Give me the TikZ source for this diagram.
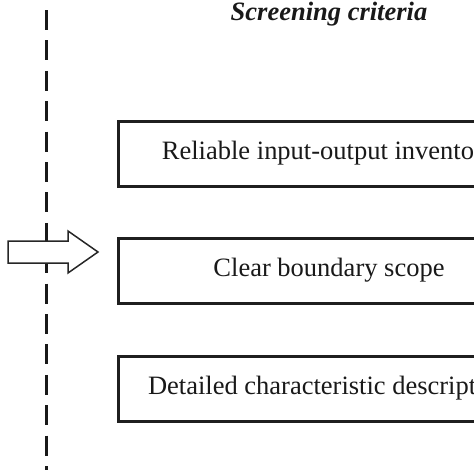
\documentclass[tikz,border=0pt]{standalone}
\usepackage{fontspec}
\setmainfont{Liberation Serif}
\tikzset{
  critbox/.style={draw=black!88, line width=3pt, minimum width=422pt, minimum height=65pt, inner sep=0pt, text=black!90, font=\fontsize{26.5}{30}\selectfont},
  divider/.style={draw=black!90, line width=3pt, dash pattern=on 20pt off 10.4pt},
  bigarrow/.style={draw=black!85, fill=white, line width=1.5pt, line join=miter},
  titletext/.style={font=\fontsize{26.5}{30}\selectfont\bfseries\itshape, text=black!90, inner sep=0pt}
}
\begin{document}
\begin{tikzpicture}[x=1pt,y=-1pt]
\useasboundingbox (0,0) rectangle (474,474);
\clip (0,0) rectangle (474,474);
\coordinate (top) at (46,10);
\coordinate (bot) at (46,470);
\draw[divider] (top) -- (bot);
\node[titletext] (title) at (329,14) {Screening criteria};
\node[critbox] (b1) at (329,153.5) {Reliable input-output inventory};
\node[critbox] (b2) at (329,270.5) {Clear boundary scope};
\node[critbox] (b3) at (329,388.5) {Detailed characteristic description};
\draw[bigarrow] (8,241) -- (68,241) -- (68,231) -- (98,252) -- (68,273) -- (68,263) -- (8,263) -- cycle;
\end{tikzpicture}
\end{document}
